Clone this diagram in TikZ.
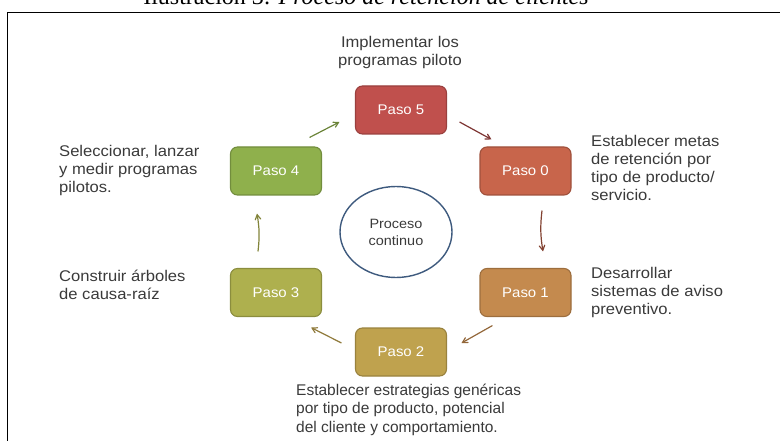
\documentclass[tikz,border=0pt]{standalone}
\usepackage{fontspec}
\setmainfont{Liberation Sans}[FakeStretch=1.07]
\newfontfamily\titlefont{Liberation Serif}
\newfontfamily\narrowfont{Liberation Sans}
\usetikzlibrary{arrows}
\usetikzlibrary{shapes}

\definecolor{textgray}{HTML}{3A3A3A}
\definecolor{fillcinco}{HTML}{C0504D}
\definecolor{fillcero}{HTML}{C8654B}
\definecolor{filluno}{HTML}{C48A4E}
\definecolor{filldos}{HTML}{BFA24E}
\definecolor{filltres}{HTML}{AEB04E}
\definecolor{fillcuatro}{HTML}{8FB04C}
\definecolor{ringblue}{HTML}{3E5A7E}

\tikzset{
 paso/.style={draw, rounded corners=7pt, line width=1.1pt, minimum width=91pt,
   minimum height=48pt, text=white, font=\fontsize{14}{16}\selectfont},
 nota/.style={anchor=north west, inner sep=0pt, align=left, text=textgray,
   font=\fontsize{15.5}{18}\selectfont, execute at begin node={\rule{0pt}{15pt}}},
 flecha/.style={->, >=angle 60, line width=1.2pt},
}

\begin{document}
\begin{tikzpicture}[x=1pt,y=-1pt]
 \useasboundingbox (0,0) rectangle (780,441);
 % marco y titulo
 \draw[line width=1.5pt] (7.5,460) -- (7.5,12.5) -- (790,12.5);
 \node[anchor=base, inner sep=0pt, font=\titlefont\fontsize{24}{26}\selectfont] (titulo) at (366,5)
   {Ilustración 3: \textit{Proceso de retención de clientes}};

 % pasos
 \node[paso, fill=fillcinco, draw=fillcinco!80!black] (p5) at (401,110) {Paso 5};
 \node[paso, fill=fillcero, draw=fillcero!80!black] (p0) at (525.5,171) {Paso 0};
 \node[paso, fill=filluno, draw=filluno!80!black] (p1) at (525.5,292.5) {Paso 1};
 \node[paso, fill=filldos, draw=filldos!80!black] (p2) at (401,352) {Paso 2};
 \node[paso, fill=filltres, draw=filltres!80!black] (p3) at (276,292.5) {Paso 3};
 \node[paso, fill=fillcuatro, draw=fillcuatro!80!black] (p4) at (276,171) {Paso 4};

 \node[ellipse, draw=ringblue, line width=1.4pt, minimum width=112pt, minimum height=91pt,
   align=center, text=textgray, font=\fontsize{13.5}{17}\selectfont] (centro) at (396,232)
   {Proceso\\continuo};

 % flechas
 \draw[flecha, draw=fillcuatro!75!black] ([xshift=-12.5pt,yshift=9pt]p4.north east) -- ([xshift=-15.5pt,yshift=-12pt]p5.west);
 \draw[flecha, draw=fillcinco!65!black] ([xshift=12.5pt,yshift=-12pt]p5.east) -- ([xshift=12pt,yshift=7pt]p0.north west);
 \draw[flecha, draw=fillcero!65!black] ([xshift=16.5pt,yshift=-15pt]p0.south) to[bend right=8] ([xshift=17.5pt,yshift=16.5pt]p1.north);
 \draw[flecha, draw=filluno!75!black] ([xshift=13pt,yshift=-8.5pt]p1.south west) -- ([xshift=14.5pt,yshift=9pt]p2.east);
 \draw[flecha, draw=filldos!75!black] ([xshift=-13.5pt,yshift=9pt]p2.west) -- ([xshift=-11pt,yshift=-10.5pt]p3.south east);
 \draw[flecha, draw=filltres!75!black] ([xshift=-18pt,yshift=16.5pt]p3.north) to[bend right=8] ([xshift=-19pt,yshift=-18pt]p4.south);

 % textos
 \node[nota, anchor=north, align=center] (t5) at (400,36.5) {Implementar los\\programas piloto};
 \node[nota] (t0) at (591,135.5) {Establecer metas\\de retención por\\tipo de producto/\\servicio.};
 \node[nota] (t1) at (591,267.5) {Desarrollar\\sistemas de aviso\\preventivo.};
 \node[nota, font=\narrowfont\fontsize{15.5}{18.5}\selectfont] (t2) at (296,383.5)
   {Establecer estrategias genéricas\\por tipo de producto, potencial\\del cliente y comportamiento.};
 \node[nota] (t3) at (59,269.5) {Construir árboles\\de causa-raíz};
 \node[nota] (t4) at (59,145.5) {Seleccionar, lanzar\\y medir programas\\pilotos.};
\end{tikzpicture}
\end{document}
